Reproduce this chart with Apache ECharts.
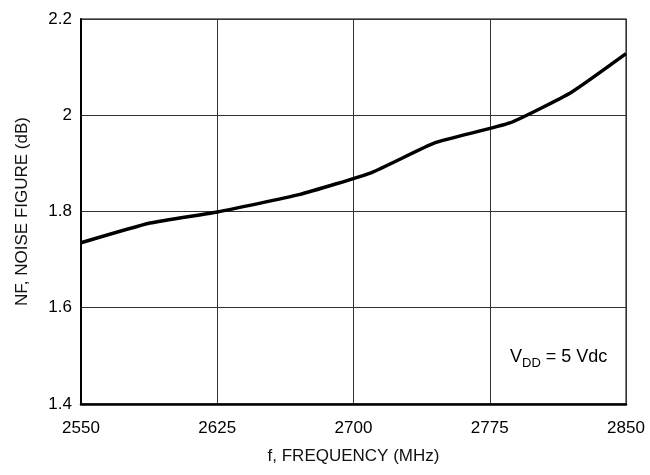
<!DOCTYPE html>
<html>
<head>
<meta charset="utf-8">
<script src="https://cdn.jsdelivr.net/npm/echarts@6/dist/echarts.min.js"></script>
<style>
    html, body { margin: 0; padding: 0; background: #fff; }
    #main { width: 650px; height: 475px; }
</style>
</head>
<body>
<div id="main"></div>
<script>
    // values
    var freq = [2550, 2588, 2625, 2670, 2710, 2745, 2786, 2820, 2850];
    var noiseFigure = [1.735, 1.776, 1.799, 1.835, 1.881, 1.943, 1.984, 2.048, 2.128];

    var font = '"Liberation Sans", Arial, sans-serif';
    var chart = echarts.init(document.getElementById('main'));

    var option = {
        backgroundColor: '#fff',
        textStyle: { fontFamily: font },
        grid: {
            left: 81, right: 24, top: 19, bottom: 71,
            show: true,
            borderColor: '#555',
            borderWidth: 1.5
        },
        xAxis: {
            type: 'value',
            min: 2550, max: 2850, interval: 75,
            name: 'f, FREQUENCY (MHz)',
            nameLocation: 'middle',
            nameGap: 44,
            nameTextStyle: { fontSize: 17, color: '#111', fontFamily: font },
            axisLine: { lineStyle: { color: '#000', width: 2.5 } },
            axisTick: { show: false },
            axisLabel: {
                fontSize: 17, color: '#000', margin: 16, fontFamily: font,
                formatter: function (v) { return String(v); }
            },
            splitLine: { lineStyle: { color: '#333', width: 1 } }
        },
        yAxis: {
            type: 'value',
            min: 1.4, max: 2.2, interval: 0.2,
            name: 'NF, NOISE FIGURE (dB)',
            nameLocation: 'middle',
            nameGap: 50,
            nameTextStyle: { fontSize: 17, color: '#111', fontFamily: font },
            axisLine: { show: true, lineStyle: { color: '#000', width: 2 } },
            axisTick: { show: false },
            axisLabel: {
                fontSize: 17, color: '#000', margin: 9, fontFamily: font,
                formatter: function (v) { return String(+v.toFixed(1)); }
            },
            splitLine: { lineStyle: { color: '#333', width: 1 } }
        },
        series: [{
            type: 'line',
            data: freq.map(function (f, i) { return [f, noiseFigure[i]]; }),
            showSymbol: false,
            smooth: 0.15,
            lineStyle: { color: '#000', width: 3.5 }
        }],
        graphic: [{
            type: 'text',
            left: 510,
            top: 347,
            style: {
                text: '{a|V}{s|DD}{a| = 5 Vdc}',
                rich: {
                    a: { fontSize: 18, fontFamily: font, fill: '#000', lineHeight: 22, verticalAlign: 'top' },
                    s: { fontSize: 13, fontFamily: font, fill: '#000', lineHeight: 22, padding: [10, 0, 0, 0], verticalAlign: 'bottom' }
                }
            }
        }]
    };
    chart.setOption(option);
</script>
</body>
</html>
